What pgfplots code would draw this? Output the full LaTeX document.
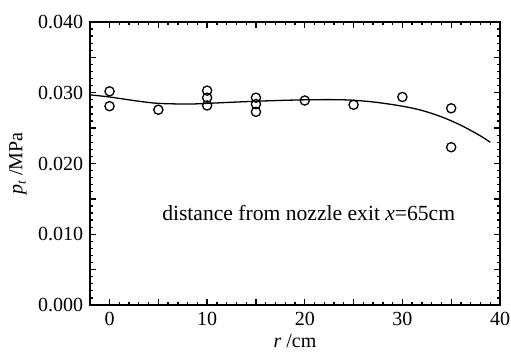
\documentclass[border=0pt]{standalone}
\usepackage{fontspec}
\setmainfont{Liberation Serif}
\usepackage{pgfplots}
\pgfplotsset{compat=1.18}
\begin{document}
\fontsize{20}{24}\selectfont
\begin{tikzpicture}
\begin{axis}[
  scale only axis, width=410pt, height=283pt,
  xmin=-2, xmax=40, ymin=0, ymax=0.04,
  axis line style={line width=1.6pt},
  /pgf/number format/assume math mode=true,
  xtick={0,10,20,30,40},
  ytick={0,0.01,0.02,0.03,0.04},
  minor x tick num=9, minor y tick num=9,
  extra x ticks={5,15,25,35}, extra x tick labels={},
  extra y ticks={0.005,0.015,0.025,0.035}, extra y tick labels={},
  major tick length=6pt, minor tick length=3pt,
  every tick/.style={black, line width=1.3pt},
  yticklabel style={/pgf/number format/.cd, fixed, fixed zerofill, precision=3},
  scaled y ticks=false,
  xlabel={\textit{r} /cm},
  ylabel={\textit{p}\raisebox{-0.35ex}{\fontsize{13}{14}\selectfont\textit{t}} /MPa},
  xlabel style={yshift=5pt},
  ylabel style={yshift=-2pt},
  clip=false,
]
\addplot[black, line width=1.3pt, smooth] coordinates {
(-2,0.0297) (0,0.0294) (3,0.0288) (5,0.0285) (8,0.0284) (10,0.0285)
(15,0.0288) (20,0.0290) (24,0.0290) (27,0.0287) (30,0.0281)
(32,0.0275) (34,0.0266) (36,0.0254) (38,0.0239) (39,0.0230)};
\addplot[only marks, mark=o, mark size=4.6pt, mark options={line width=1.3pt}, black] coordinates {
(0,0.0302) (0,0.0281) (5,0.0276)
(10,0.0303) (10,0.0293) (10,0.0282)
(15,0.0293) (15,0.0284) (15,0.0273)
(20,0.0289) (25,0.0283) (30,0.0294)
(35,0.0278) (35,0.0223)};
\node[anchor=west, font=\fontsize{21.6}{26}\selectfont] at (axis cs:4.7,0.0130) {distance from nozzle exit \textit{x}=65cm};
\end{axis}
\pgfresetboundingbox
\path (current axis.south west) ++(-90pt,-47pt) rectangle ++(511pt,352pt);
\end{tikzpicture}
\end{document}
